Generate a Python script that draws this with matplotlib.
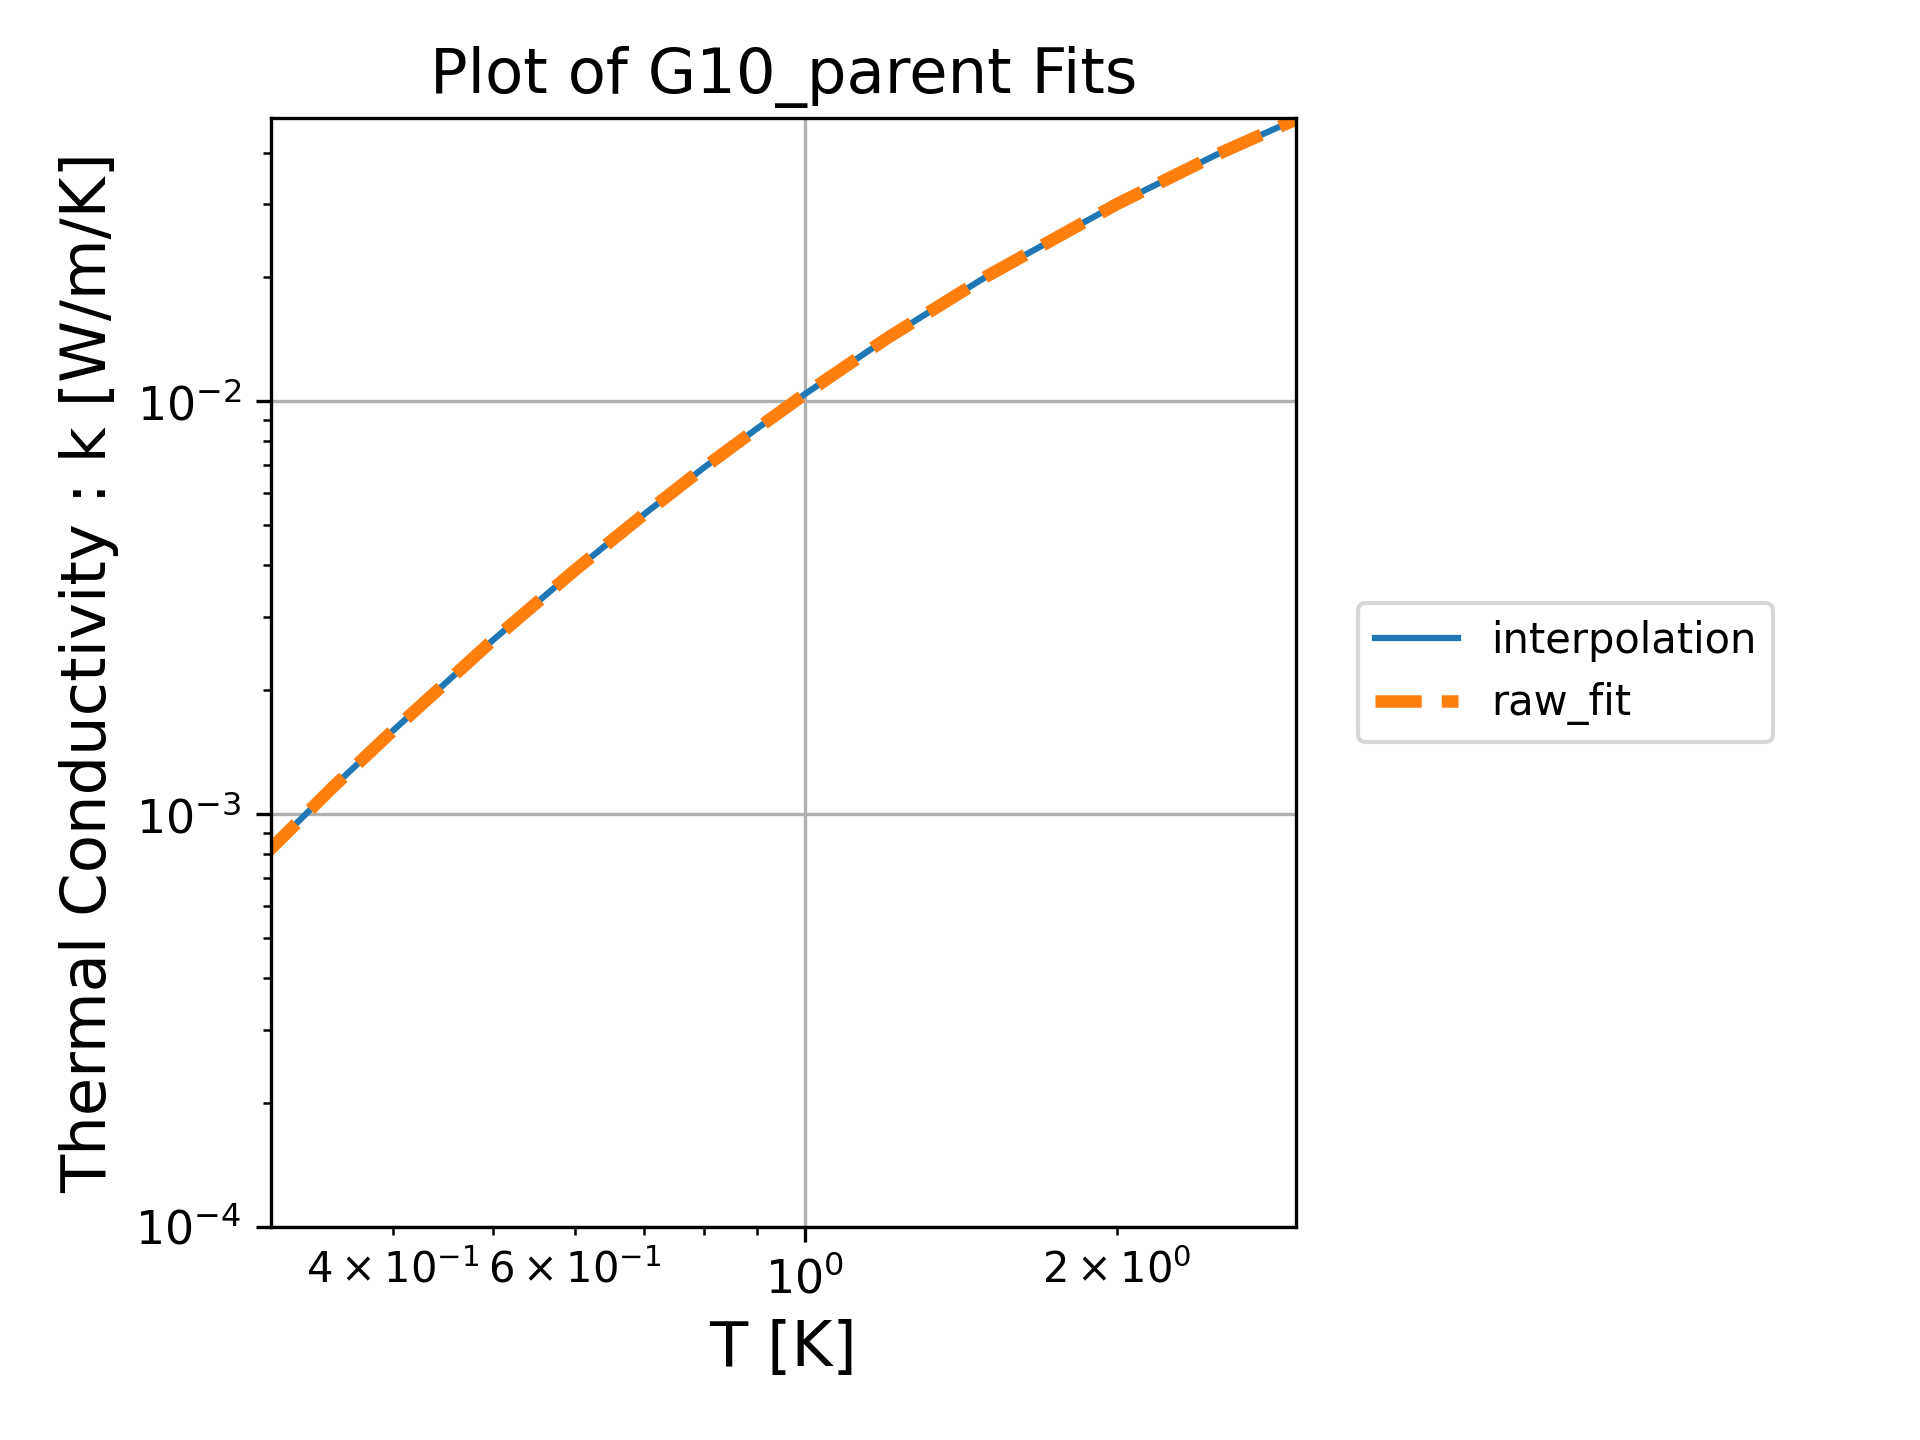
import matplotlib
matplotlib.use("Agg")
import matplotlib.pyplot as plt

# values
T = [0.3, 0.35, 0.4, 0.5, 0.6, 0.7, 0.8, 0.9, 1.0, 1.2, 1.5, 2.0, 2.5, 3.0]
k = [7.9e-4, 1.16e-3, 1.59e-3, 2.64e-3, 3.9e-3, 5.33e-3, 6.92e-3, 8.6e-3, 1.04e-2,
     1.42e-2, 2.01e-2, 3.0e-2, 3.96e-2, 4.85e-2]

fig = plt.figure(figsize=(6.4, 4.8), dpi=300)
ax = fig.add_axes([0.141, 0.148, 0.534, 0.770])
ax.loglog(T, k, label='interpolation')
ax.loglog(T, k, '--', lw=3, label='raw_fit')
ax.set_xlim(0.305, 2.98)
ax.set_ylim(1e-4, 4.85e-2)
ax.grid(True)
ax.set_title('Plot of G10_parent Fits', fontsize=15)
ax.set_xlabel('T [K]', fontsize=15)
ax.set_ylabel('Thermal Conductivity : k [W/m/K]', fontsize=15)
ax.tick_params(labelsize=11)
ax.legend(loc='center left', bbox_to_anchor=(1.04, 0.5), fontsize=10)
fig.savefig("out.png")
